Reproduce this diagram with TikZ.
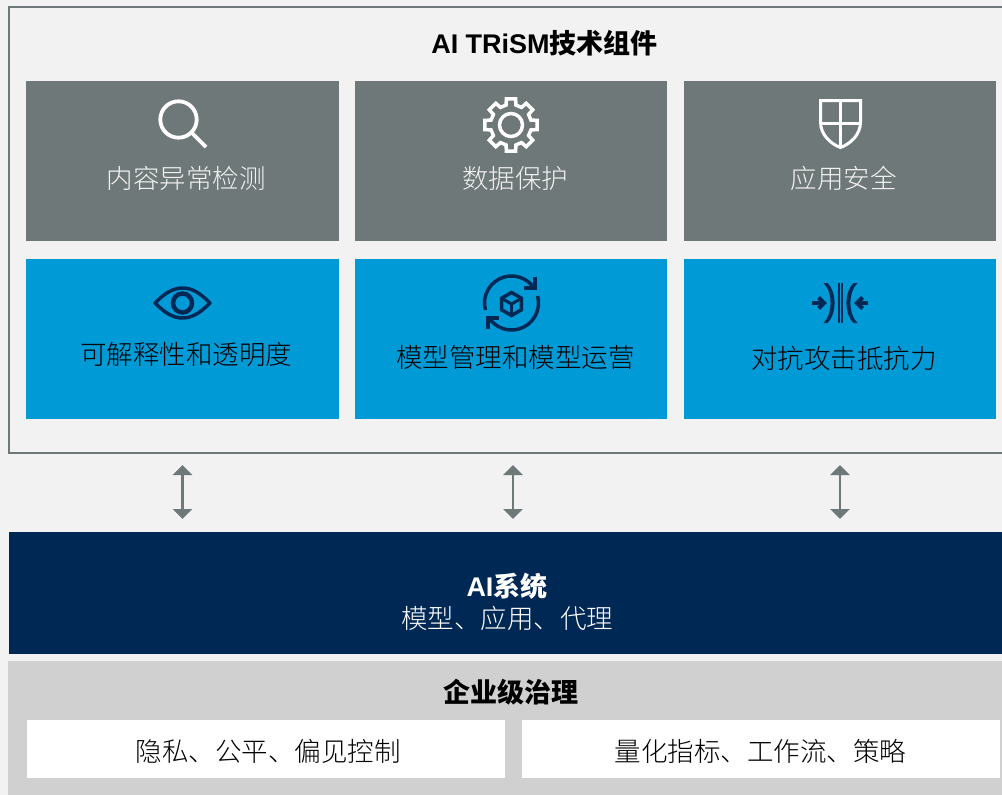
\documentclass[tikz,border=0pt]{standalone}
\usepackage{fontspec}
\usetikzlibrary{arrows.meta}
\setmainfont{Liberation Sans}
\newfontfamily\cjk{Noto Sans CJK SC}
\newfontfamily\cjklight{Noto Sans CJK SC Light}
\definecolor{pagegrey}{HTML}{F2F2F2}
\definecolor{slate}{HTML}{6F7878}
\definecolor{skyblue}{HTML}{009AD7}
\definecolor{navy}{HTML}{002855}
\definecolor{govgrey}{HTML}{D0D0D0}

\begin{document}
\begin{tikzpicture}[x=1pt,y=-1pt,
box node/.style={rectangle,inner sep=0pt,minimum width=312.5pt,minimum height=160pt},
grey node/.style={box node,fill=slate},
blue node/.style={box node,fill=skyblue},
white node/.style={rectangle,fill=white,inner sep=0pt,minimum width=478pt,minimum height=58pt},
label node/.style={inner sep=0pt,font=\cjklight\fontsize{26.5}{30}\selectfont},
head node/.style={inner sep=0pt,font=\bfseries\fontsize{27}{30}\selectfont},
light icon/.style={draw=white,line width=3.5pt},
dark icon/.style={draw=navy,line width=3.5pt},
both way/.style={{Triangle[width=19pt,length=10pt]}-{Triangle[width=19pt,length=10pt]},draw=slate,fill=slate,line width=2.2pt}]

\useasboundingbox (0,0) rectangle (1002,795);
\clip (0,0) rectangle (1002,795);
\fill[pagegrey] (0,0) rectangle (1002,795);

\node[draw=slate,line width=2pt,inner sep=0pt,minimum width=1010pt,minimum height=446pt] (frame) at (514,230) {};
\node[head node] (title) at (544.5,43) {AI TRiSM\cjk 技术组件};

\node[grey node] (n0) at (182.5,161) {};
\node[grey node] (n1) at (511,161) {};
\node[grey node] (n2) at (840,161) {};
\node[blue node] (n3) at (182.5,339) {};
\node[blue node] (n4) at (511,339) {};
\node[blue node] (n5) at (840,339) {};

\node[label node,text=white!90!slate] (t0) at (186,178) {内容异常检测};
\node[label node,text=white!90!slate] (t1) at (515,178) {数据保护};
\node[label node,text=white!90!slate] (t2) at (843.5,178) {应用安全};
\node[label node,text=black] (t3) at (186,354) {可解释性和透明度};
\node[label node,text=black] (t4) at (515.5,357) {模型管理和模型运营};
\node[label node,text=black] (t5) at (844,358) {对抗攻击抵抗力};

% magnifier
\draw[light icon,line width=3.8pt] (178.5,119.5) circle (18.2);
\draw[light icon,line width=3.8pt] (192,133) -- (206,147);

% gear
\begin{scope}[shift={(511,125)}]
\draw[light icon,line join=miter] (76:20.5) \foreach \a in {90,135,...,405} {-- (\a-14:20.5) -- (\a-10:26.5) -- (\a+10:26.5) -- (\a+14:20.5)} -- cycle;
\draw[light icon] (0,0) circle (11.5);
\end{scope}

% shield
\draw[light icon,line width=3pt,line join=miter] (820.5,100.5) -- (860.5,100.5) -- (860.5,122) .. controls (860.5,135) and (850,144) .. (840.5,147.5) .. controls (831,144) and (820.5,135) .. (820.5,122) -- cycle;
\draw[light icon,line width=3pt] (840.5,100.5) -- (840.5,147.5);
\draw[light icon,line width=3pt] (820.5,123) -- (860.5,123);

% eye
\draw[dark icon,line join=round] (155,303) .. controls (165,293) and (173,288) .. (182.5,288) .. controls (192,288) and (200,293) .. (210,303) .. controls (200,313) and (192,318) .. (182.5,318) .. controls (173,318) and (165,313) .. (155,303) -- cycle;
\draw[dark icon,line width=4.5pt] (182.5,303) circle (9.5);

% cycle with cube
\begin{scope}[shift={(511.5,303)}]
\draw[dark icon] (165:27) arc[start angle=165,end angle=325,radius=27];
\draw[dark icon] (-15:27) arc[start angle=-15,end angle=145,radius=27];
\end{scope}
\draw[dark icon,line join=miter] (535,277) -- (535,288) -- (524,288);
\draw[dark icon,line join=miter] (488,329) -- (488,318) -- (499,318);
\begin{scope}[shift={(511.5,304)}]
\draw[dark icon,line join=miter] (90:11.5) -- (30:11.5) -- (-30:11.5) -- (-90:11.5) -- (-150:11.5) -- (150:11.5) -- cycle;
\draw[dark icon,line width=3pt] (0,0) -- (0,11.5);
\draw[dark icon,line width=3pt] (0,0) -- (-30:11.5);
\draw[dark icon,line width=3pt] (0,0) -- (-150:11.5);
\end{scope}

% resisting arrows
\fill[navy] (823.5,283) .. controls (833,292) and (833,314) .. (823.5,323) -- (827.5,323) .. controls (837,314) and (837,292) .. (827.5,283) -- cycle;
\fill[navy] (857.5,283) .. controls (848,292) and (848,314) .. (857.5,323) -- (853.5,323) .. controls (844,314) and (844,292) .. (853.5,283) -- cycle;
\draw[dark icon,line width=2pt] (839.3,283) -- (839.3,323);
\draw[dark icon,line width=2pt] (841.7,283) -- (841.7,323);
\draw[dark icon] (812,303) -- (823,303);
\draw[dark icon,line width=4pt,line join=miter] (818.5,297.5) -- (824,303) -- (818.5,308.5);
\draw[dark icon] (868,303) -- (857,303);
\draw[dark icon,line width=4pt,line join=miter] (862.5,297.5) -- (857,303) -- (862.5,308.5);

\node[rectangle,fill=navy,inner sep=0pt,minimum width=1002pt,minimum height=122pt] (sys) at (510,593) {};
\node[head node,text=white] (sys title) at (507,586) {AI\cjk 系统};
\node[label node,text=white] (sys text) at (507,618) {模型、应用、代理};

\node[rectangle,fill=govgrey,inner sep=0pt,minimum width=1002pt,minimum height=134pt] (gov) at (509,728) {};
\node[head node,font=\cjk\bfseries\fontsize{27}{30}\selectfont] (gov title) at (511,692) {企业级治理};
\node[white node] (w0) at (266,749) {};
\node[white node] (w1) at (761,749) {};
\node[label node] (w0 text) at (268,751) {隐私、公平、偏见控制};
\node[label node] (w1 text) at (760.5,751) {量化指标、工作流、策略};

\coordinate (a0) at (182.5,465);
\coordinate (b0) at (182.5,519);
\coordinate (a1) at (513,465);
\coordinate (b1) at (513,519);
\coordinate (a2) at (840,465);
\coordinate (b2) at (840,519);
\path[] (a0) edge[both way] (b0)
(a1) edge[both way] (b1)
(a2) edge[both way] (b2);

\end{tikzpicture}
\end{document}
